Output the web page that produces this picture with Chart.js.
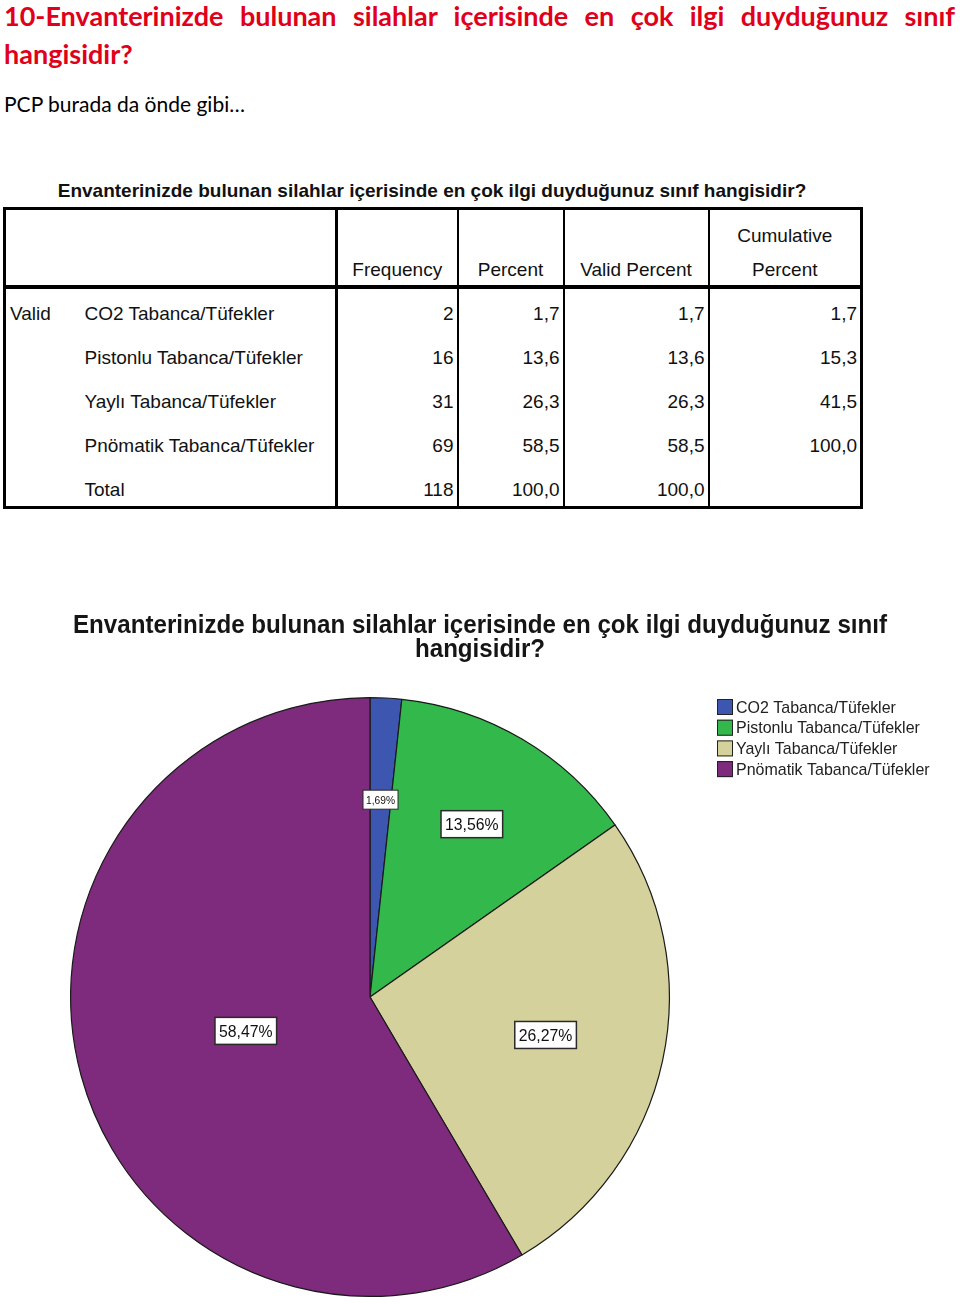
<!DOCTYPE html>
<html lang="tr">
<head>
<meta charset="utf-8">
<title>Envanter - ilgi duyulan sınıf</title>
<script src="https://cdn.jsdelivr.net/npm/chart.js@4.4.0/dist/chart.umd.min.js"></script>
<style>
    body { margin: 0; background: #fff; width: 960px; height: 1307px; position: relative; overflow: hidden; }
    .baslik {
        position: absolute; left: 4px;
        font-family: Lato, "Liberation Sans", sans-serif;
        font-weight: bold; font-size: 27px; color: #e1001a; line-height: 30px; white-space: nowrap;
    }
    #baslik1 { top: 1px; }
    #baslik2 { top: 39px; }
    #aciklama {
        position: absolute; left: 4px; top: 92px;
        font-family: Lato, "Liberation Sans", sans-serif;
        font-size: 21px; color: #000; line-height: 24px;
    }
    #tabloBaslik {
        position: absolute; left: 0; width: 864px; top: 180px; text-align: center;
        font-family: "Liberation Sans", Arial, sans-serif; font-weight: bold; font-size: 19px; color: #111;
    }
    #frekansTablosu {
        position: absolute; left: 3px; top: 207px;
        border-collapse: collapse; table-layout: fixed; width: 857px;
        border: 3px solid #000;
        font-family: "Liberation Sans", Arial, sans-serif; font-size: 19px; color: #111;
    }
    #frekansTablosu th { font-weight: normal; vertical-align: bottom; text-align: center; height: 75px; padding: 0; line-height: 34px; border-bottom: 4px solid #000; }
    #frekansTablosu th span { position: relative; top: 2px; }
    #frekansTablosu td { height: 44px; padding: 0 3px; white-space: nowrap; }
    #frekansTablosu tr.ilk td { padding-top: 3px; }
    #frekansTablosu tr.toplam td { height: 32px; padding-top: 6px; }
    #frekansTablosu .sayi { text-align: right; }
    #frekansTablosu .cizgiKalin { border-left: 3px solid #000; }
    #frekansTablosu .cizgi { border-left: 2px solid #000; }
    #grafikKutu { position: absolute; left: 0; top: 600px; width: 960px; height: 707px; }
</style>
</head>
<body>

<div class="baslik" id="baslik1">10-Envanterinizde bulunan silahlar içerisinde en çok ilgi duyduğunuz sınıf</div>
<div class="baslik" id="baslik2">hangisidir?</div>
<div id="aciklama">PCP burada da önde gibi…</div>

<div id="tabloBaslik">Envanterinizde bulunan silahlar içerisinde en çok ilgi duyduğunuz sınıf hangisidir?</div>
<table id="frekansTablosu"></table>

<div id="grafikKutu"><canvas id="pastaGrafik" width="960" height="707"></canvas></div>

<script>
    // Veriler (tablodan ve)
    var kategoriler = ['CO2 Tabanca/Tüfekler', 'Pistonlu Tabanca/Tüfekler', 'Yaylı Tabanca/Tüfekler', 'Pnömatik Tabanca/Tüfekler'];
    var frekanslar = [2, 16, 31, 69];
    var yuzdeler = [1.7, 13.6, 26.3, 58.5];
    var gecerliYuzdeler = [1.7, 13.6, 26.3, 58.5];
    var kumulatifYuzdeler = [1.7, 15.3, 41.5, 100.0];
    var toplamFrekans = 118;
    var toplamYuzde = 100.0;
    var dilimEtiketleri = ['1,69%', '13,56%', '26,27%', '58,47%'];
    var renkler = ['#3d56b0', '#33b84b', '#d5d19c', '#7e2a7d'];

    var grafikBaslik = ['Envanterinizde bulunan silahlar içerisinde en çok ilgi duyduğunuz sınıf', 'hangisidir?'];

    function virgul(deger) {
        return deger.toFixed(1).replace('.', ',');
    }

    // İlk başlık satırını iki yana yasla (kelime aralığı ile)
    var b1 = document.getElementById('baslik1');
    var bosluk = b1.textContent.split(' ').length - 1;
    b1.style.wordSpacing = ((951 - b1.getBoundingClientRect().width) / bosluk) + 'px';

    // Frekans tablosunu oluştur
    var tabloHtml = '<colgroup><col style="width:77px"><col style="width:255px"><col style="width:121px"><col style="width:106px"><col style="width:145px"><col style="width:153px"></colgroup>';
    tabloHtml += '<tr><th></th><th></th><th class="cizgiKalin"><span>Frequency</span></th><th class="cizgi"><span>Percent</span></th>' +
        '<th class="cizgi"><span>Valid Percent</span></th><th class="cizgi"><span>Cumulative<br>Percent</span></th></tr>';
    kategoriler.forEach(function (kategori, i) {
        tabloHtml += '<tr' + (i === 0 ? ' class="ilk"' : '') + '>';
        tabloHtml += '<td style="padding-left:4px">' + (i === 0 ? 'Valid' : '') + '</td>';
        tabloHtml += '<td>' + kategori + '</td>';
        tabloHtml += '<td class="sayi cizgiKalin">' + frekanslar[i] + '</td>';
        tabloHtml += '<td class="sayi cizgi">' + virgul(yuzdeler[i]) + '</td>';
        tabloHtml += '<td class="sayi cizgi">' + virgul(gecerliYuzdeler[i]) + '</td>';
        tabloHtml += '<td class="sayi cizgi">' + virgul(kumulatifYuzdeler[i]) + '</td>';
        tabloHtml += '</tr>';
    });
    tabloHtml += '<tr class="toplam"><td></td><td>Total</td><td class="sayi cizgiKalin">' + toplamFrekans + '</td><td class="sayi cizgi">' + virgul(toplamYuzde) + '</td><td class="sayi cizgi">' + virgul(toplamYuzde) + '</td><td class="cizgi"></td></tr>';
    document.getElementById('frekansTablosu').innerHTML = tabloHtml;

    // Yazıyı verilen genişliğe sıkıştırarak çiz
    function sikistirYaz(ctx, yazi, x, y, genislik) {
        var w = ctx.measureText(yazi).width;
        var oran = Math.min(1, genislik / w);
        ctx.save();
        ctx.translate(x, y);
        ctx.scale(oran, 1);
        ctx.fillText(yazi, 0, 0);
        ctx.restore();
        return oran;
    }

    // Başlık + lejant + dilim etiketleri için eklenti
    var susEklentisi = {
        id: 'sus',
        afterDatasetsDraw: function (chart, args, opts) {
            var ctx = chart.ctx;
            ctx.save();

            // Başlık (ilk satır 814px genişliğe sıkıştırılır, ikinci aynı oranla)
            ctx.fillStyle = '#151515';
            ctx.textAlign = 'center';
            ctx.textBaseline = 'middle';
            ctx.font = 'bold 25px "Liberation Sans", Arial, sans-serif';
            var oran = ctx.measureText(grafikBaslik[0]).width;
            oran = Math.min(1, 814 / oran);
            grafikBaslik.forEach(function (satir, i) {
                var w = ctx.measureText(satir).width * oran;
                sikistirYaz(ctx, satir, chart.width / 2, 26 + i * 24, w);
            });

            // Lejant
            ctx.textAlign = 'left';
            ctx.font = '17px "Liberation Sans", sans-serif';
            kategoriler.forEach(function (kategori, i) {
                var y = opts.lejantY + i * 20.7;
                ctx.fillStyle = renkler[i];
                ctx.fillRect(opts.lejantX, y - 8, 16, 16);
                ctx.strokeStyle = '#222';
                ctx.lineWidth = 1;
                ctx.strokeRect(opts.lejantX + 0.5, y - 7.5, 15, 15);
                ctx.fillStyle = '#222';
                var tw = ctx.measureText(kategori).width * 0.94;
                sikistirYaz(ctx, kategori, opts.lejantX + 19, y + 1, tw);
            });

            // Dilim etiketleri
            var meta = chart.getDatasetMeta(0);
            meta.data.forEach(function (yay, i) {
                var orta = (yay.startAngle + yay.endAngle) / 2;
                var r = yay.outerRadius * opts.uzaklik[i];
                var x = yay.x + Math.cos(orta) * r;
                var y = yay.y + Math.sin(orta) * r;
                var kucuk = frekanslar[i] / toplamFrekans < 0.05;
                ctx.font = (kucuk ? '11px' : '17px') + ' "Liberation Sans", Arial, sans-serif';
                var tw = ctx.measureText(dilimEtiketleri[i]).width * 0.93;
                var w = tw + (kucuk ? 6 : 8);
                var h = kucuk ? 19 : 27;
                ctx.fillStyle = '#fff';
                ctx.fillRect(x - w / 2, y - h / 2, w, h);
                ctx.strokeStyle = '#2a2a2a';
                ctx.lineWidth = kucuk ? 1 : 1.5;
                ctx.strokeRect(x - w / 2, y - h / 2, w, h);
                ctx.fillStyle = '#111';
                ctx.textAlign = 'center';
                sikistirYaz(ctx, dilimEtiketleri[i], x, y + 1, tw);
            });
            ctx.restore();
        }
    };

    var ctx = document.getElementById('pastaGrafik').getContext('2d');
    var pasta = new Chart(ctx, {
        type: 'pie',
        data: {
            labels: kategoriler,
            datasets: [{
                data: frekanslar,
                backgroundColor: renkler,
                borderColor: '#1a1a1a',
                borderWidth: 1.2
            }]
        },
        options: {
            responsive: false,
            devicePixelRatio: 1,
            animation: false,
            layout: { padding: { left: 70, right: 290, top: 97, bottom: 10 } },
            plugins: {
                legend: { display: false },
                title: { display: false },
                tooltip: { enabled: false },
                sus: { lejantX: 717, lejantY: 107, uzaklik: [0.66, 0.67, 0.6, 0.43] }
            }
        },
        plugins: [susEklentisi]
    });
</script>
</body>
</html>
